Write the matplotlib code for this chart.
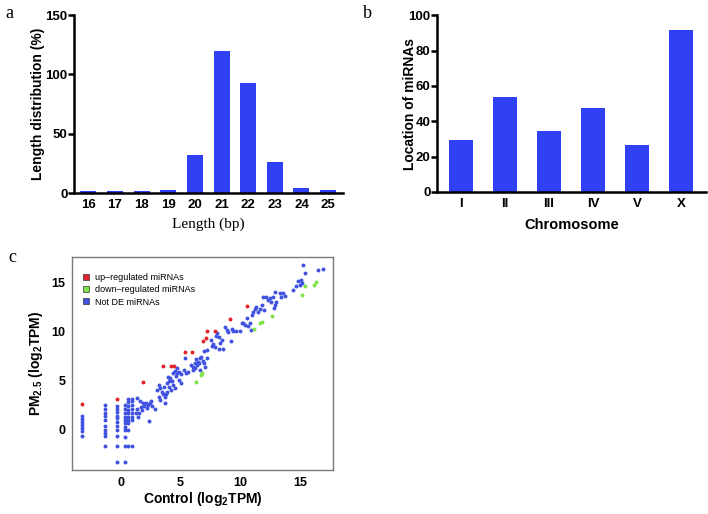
import matplotlib
matplotlib.use("Agg")
import matplotlib.pyplot as plt
from matplotlib.lines import Line2D

plt.rcParams['font.family'] = ['Liberation Sans', 'DejaVu Sans']
plt.rcParams['mathtext.fontset'] = 'custom'
plt.rcParams['mathtext.rm'] = 'Liberation Sans'
plt.rcParams['mathtext.bf'] = 'Liberation Sans:bold'

# panel a - length distribution
lengths = [16, 17, 18, 19, 20, 21, 22, 23, 24, 25]
length_pct = [1.4, 1.4, 1.4, 2.4, 32, 119.5, 92.5, 26.5, 4.5, 2.2]

# panel b - chromosome location
chromosomes = ["I", "II", "III", "IV", "V", "X"]
chrom_counts = [29.5, 53.5, 34.6, 47.4, 26.4, 91.5]

# panel c - scatter (control vs PM2.5, log2 TPM)
up_x = [-3.3, -0.3, 1.87, 3.55, 4.19, 4.47, 5.34, 5.92, 6.9, 7.12, 7.2, 7.91, 9.16, 10.59]
up_y = [2.6, 3.16, 4.92, 6.48, 6.48, 6.48, 7.91, 7.91, 9.03, 9.4, 10.05, 10.05, 11.3, 12.66]

down_x = [6.28, 6.73, 6.76, 11.15, 11.65, 11.84, 12.68, 15.22, 15.42, 16.17, 16.34]
down_y = [4.92, 5.6, 5.75, 10.29, 10.86, 10.96, 11.57, 13.78, 14.66, 14.8, 15.07]

blue_x = [
    -3.3, -3.3, -3.3, -3.3, -3.3, -3.3, -3.3,
    -1.3, -1.3, -1.3, -1.3, -1.3, -1.3, -1.3, -1.3, -1.3, -1.3,
    -0.3, -0.3, -0.3, -0.3, -0.3, -0.3, -0.3, -0.3, -0.3, -0.3, -0.3,
    0.3, 0.3, 0.3, 0.3, 0.3, 0.3, 0.3, 0.3, 0.3, 0.3, 0.3,
    0.6, 0.6, 0.6, 0.6, 0.6, 0.6, 0.6, 0.6, 0.6, 0.6,
    0.95, 0.95, 0.95, 0.95, 0.95, 0.95, 0.95, 0.95,
    1.37, 1.59, 1.82, 1.65, 1.37, 1.26, 1.54, 1.93, 2.09, 2.26, 2.43, 2.54,
    2.63, 2.85, 2.32, 2.21, 1.79, 1.45,
    2.99, 3.16, 3.27, 3.41, 3.55, 3.16, 3.27, 3.66, 3.77, 3.72, 3.88, 3.83,
    4.0, 4.11, 3.94, 4.27, 4.39, 4.5, 4.22, 4.0, 3.6, 4.39, 4.61, 4.72,
    4.89, 5.06, 4.55, 4.72, 4.83, 5.0, 5.28, 5.45,
    5.34, 5.64, 5.87, 6.06, 6.2, 6.28, 6.34, 6.51, 6.62, 6.73, 6.84, 6.96,
    7.07, 7.23, 6.96, 6.48, 6.2, 6.0, 6.62, 7.18,
    7.51, 7.74, 7.63, 7.88, 8.02, 7.96, 8.18, 8.3, 8.44, 8.58, 8.24,
    8.69, 8.85, 8.99, 9.19, 9.27, 9.41, 9.64, 9.97,
    10.11, 10.25, 10.39, 10.67, 10.87, 10.81, 10.59, 10.95, 11.09, 11.31,
    11.23, 11.51, 11.65, 11.79, 11.98, 11.93, 12.15, 12.35, 12.49, 12.54,
    12.77, 12.91, 12.82, 12.91, 13.04, 13.32, 13.46, 13.6, 13.74,
    14.44, 14.66, 14.86, 15.0, 15.14, 15.06, 15.28, 15.42, 16.56, 16.96,
]
blue_y = [
    1.4, 1.1, 0.8, 0.5, 0.2, -0.1, -0.6,
    2.5, 2.1, 1.7, 1.4, 1.0, 0.4, 0.0, -0.3, -0.6, -1.6,
    2.45, 2.1, 1.8, 1.45, 1.2, 0.85, 0.4, 0.0, -0.6, -1.6, -3.25,
    2.55, 2.1, 1.7, 1.35, 1.0, 0.7, 0.35, 0.0, -0.7, -1.6, -3.25,
    3.2, 2.8, 2.4, 2.05, 1.7, 1.35, 1.0, 0.7, 0.0, -1.6,
    3.2, 2.9, 2.55, 2.15, 1.75, 1.35, 1.0, -1.6,
    3.22, 2.99, 2.72, 2.38, 2.1, 1.7, 1.77, 2.44, 2.72, 2.51, 2.72, 2.99,
    2.44, 2.1, 0.95, 2.21, 2.04, 1.36,
    4.07, 4.58, 4.24, 3.9, 3.67, 3.39, 3.05, 3.39, 3.67, 2.72, 3.9, 4.82,
    5.02, 5.3, 5.36, 4.96, 4.58, 4.24, 4.07, 4.41, 4.41, 5.77, 5.5, 5.84,
    5.94, 5.7, 6.04, 6.28, 5.09, 4.75, 6.11, 5.84,
    7.3, 5.94, 6.62, 6.45, 6.86, 7.26, 6.62, 6.79, 7.3, 7.47, 7.06, 6.79,
    6.45, 7.3, 8.08, 6.96, 6.28, 6.11, 6.11, 8.15,
    9.17, 8.76, 8.55, 8.42, 9.84, 9.57, 8.21, 8.83, 9.17, 8.21, 9.44,
    10.45, 10.18, 10.01, 9.1, 10.25, 10.12, 10.12, 10.12,
    10.93, 10.93, 10.69, 10.59, 10.18, 10.93, 11.37, 11.71, 12.05, 12.56,
    12.29, 12.05, 12.29, 12.73, 12.22, 13.58, 13.58, 13.24, 13.41, 13.07,
    13.58, 14.09, 12.39, 12.73, 13.07, 13.92, 13.58, 13.92, 13.65,
    14.26, 14.66, 15.11, 14.77, 14.93, 15.27, 16.8, 16.02, 16.23, 16.36,
]

bar_color = "#3040f5"
fig = plt.figure(figsize=(7.08, 5.14), dpi=100)


def style_prism(ax):
    # GraphPad-like axes: thick left/bottom only
    for s in ["top", "right"]:
        ax.spines[s].set_visible(False)
    for s in ["left", "bottom"]:
        ax.spines[s].set_linewidth(1.8)
    ax.tick_params(axis="y", direction="out", length=4, width=1.8, labelsize=9.5, pad=0.5)
    ax.tick_params(axis="x", length=0, labelsize=9.5, pad=4)
    for lab in ax.get_xticklabels() + ax.get_yticklabels():
        lab.set_fontweight("bold")


# ---- a ----
ax1 = fig.add_axes([0.1045, 0.6245, 0.380, 0.3463])
ax1.bar(lengths, length_pct, width=0.6, color=bar_color)
ax1.set_xlim(15.46, 25.56)
ax1.set_ylim(0, 150)
ax1.set_yticks([0, 50, 100, 150])
ax1.set_xticks(lengths)
style_prism(ax1)
ax1.set_xlabel("Length (bp)", family="Liberation Serif", fontsize=11, labelpad=5)
ax1.set_ylabel("Length distribution (%)", fontsize=10, fontweight="bold")
ax1.yaxis.set_label_coords(-0.108, 0.5)
fig.text(0.008, 0.965, "a", family="Liberation Serif", fontsize=13)

# ---- b ----
ax2 = fig.add_axes([0.617, 0.6265, 0.380, 0.344])
xpos = list(range(len(chromosomes)))
ax2.bar(xpos, chrom_counts, width=0.56, color=bar_color)
ax2.set_xlim(-0.55, 5.57)
ax2.set_ylim(0, 100)
ax2.set_yticks([0, 20, 40, 60, 80, 100])
ax2.set_xticks(xpos)
ax2.set_xticklabels(chromosomes)
style_prism(ax2)
ax2.set_xlabel("Chromosome", fontsize=10.5, fontweight="bold", labelpad=6)
ax2.set_ylabel("Location of miRNAs", fontsize=10, fontweight="bold")
ax2.yaxis.set_label_coords(-0.074, 0.5)
fig.text(0.513, 0.965, "b", family="Liberation Serif", fontsize=13)

# ---- c ----
ax3 = fig.add_axes([0.1021, 0.0856, 0.3686, 0.4144])
ax3.scatter(blue_x, blue_y, s=8, color="#4152e0", linewidths=0)
ax3.scatter(up_x, up_y, s=8, color="#e3232b", linewidths=0)
ax3.scatter(down_x, down_y, s=8, color="#7fe347", linewidths=0)
ax3.set_xlim(-4.08, 17.8)
ax3.set_ylim(-4.07, 17.6)
ax3.set_xticks([0, 5, 10, 15])
ax3.set_yticks([0, 5, 10, 15])
for s in ax3.spines.values():
    s.set_color("#7a7a7a")
    s.set_linewidth(1.0)
ax3.tick_params(length=0, labelsize=9, pad=5)
for lab in ax3.get_xticklabels() + ax3.get_yticklabels():
    lab.set_fontweight("bold")
ax3.set_xlabel(r"Control (log$_{\mathbf{2}}$TPM)", fontsize=10, fontweight="bold", labelpad=1)
ax3.set_ylabel(r"PM$_{\mathbf{2.5}}$ (log$_{\mathbf{2}}$TPM)", fontsize=10, fontweight="bold")
ax3.yaxis.set_label_coords(-0.105, 0.5)

handles = [
    Line2D([], [], marker="s", linestyle="none", markersize=4.5, markerfacecolor="#e3232b", markeredgecolor="#333333", markeredgewidth=0.5),
    Line2D([], [], marker="s", linestyle="none", markersize=4.5, markerfacecolor="#7fe347", markeredgecolor="#333333", markeredgewidth=0.5),
    Line2D([], [], marker="s", linestyle="none", markersize=4.5, markerfacecolor="#4152e0", markeredgecolor="#333333", markeredgewidth=0.5),
]
ax3.legend(handles, ["up\u2013regulated miRNAs", "down\u2013regulated miRNAs", "Not DE miRNAs"],
           loc="upper left", bbox_to_anchor=(0.0, 0.97), frameon=False, fontsize=6.5,
           handlelength=0.8, handletextpad=0.6, labelspacing=0.35, borderpad=0.6)
fig.text(0.012, 0.49, "c", family="Liberation Serif", fontsize=13)

fig.savefig("out.png", dpi=100)
